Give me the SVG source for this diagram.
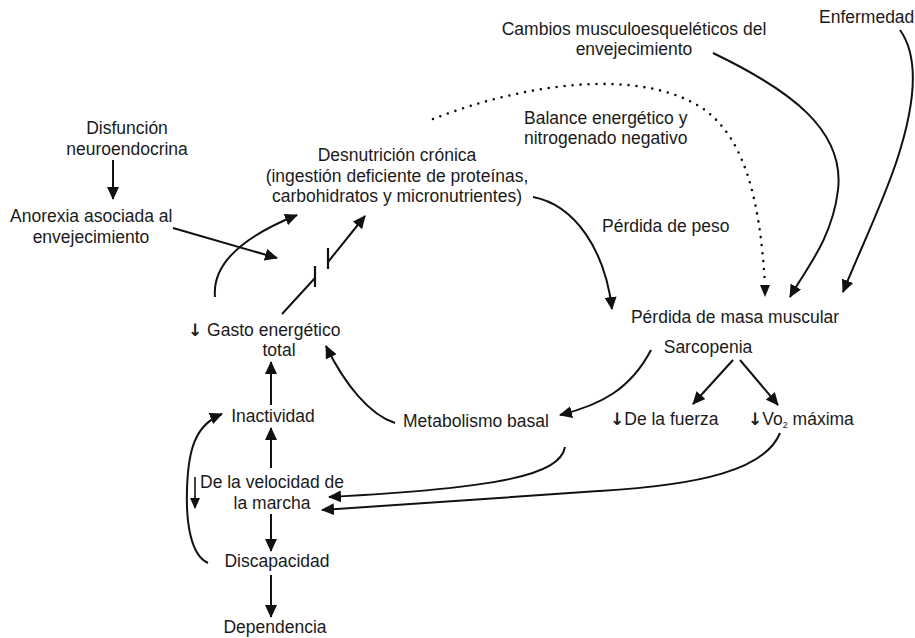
<svg xmlns="http://www.w3.org/2000/svg" width="915" height="638" viewBox="0 0 915 638">
<defs>
<marker id="ah" markerUnits="userSpaceOnUse" markerWidth="14" markerHeight="12" refX="12" refY="6" orient="auto">
<path d="M0,0 L13,6 L0,12 Z" fill="#111"/>
</marker>
<marker id="ahs" markerUnits="userSpaceOnUse" markerWidth="12" markerHeight="10" refX="10" refY="5" orient="auto">
<path d="M0,0 L11,5 L0,10 Z" fill="#111"/>
</marker>
<style>
text{font-family:"Liberation Sans",Arial,sans-serif;font-size:17.5px;fill:#1a1a1a}
.c{text-anchor:middle}
.dn{font-family:"DejaVu Sans",sans-serif;font-size:17px;font-weight:bold}
.ln{fill:none;stroke:#111;stroke-width:2}
.arr{marker-end:url(#ah)}
.dot{fill:none;stroke:#111;stroke-width:2.6;stroke-linecap:round;stroke-dasharray:0 8}
.bar{stroke:#111;stroke-width:2.2}
</style>
</defs>
<rect width="915" height="638" fill="#fff"/>

<g id="connectors">
<path class="ln arr" d="M113,160 L113,199"/>
<path class="ln arr" d="M173,228 L277,258"/>
<path class="ln arr" d="M215,297 C212,265 240,238 297,215"/>
<path class="ln" d="M282,314 L315,278"/>
<line class="bar" x1="315" y1="266" x2="315" y2="287"/>
<line class="bar" x1="328" y1="248" x2="328" y2="269"/>
<path class="ln arr" d="M328,262 L365,216"/>
<path class="ln arr" d="M533,197 C575,205 605,250 612,309"/>
<path class="dot" d="M433,119 C520,85 640,65 705,110 C745,140 760,200 765,285"/>
<path d="M760,285 L770,285 L765,297 Z" fill="#111"/>
<path class="ln arr" d="M713,53 C790,90 845,130 838,190 C832,240 805,270 790,297"/>
<path class="ln arr" d="M900,30 C920,58 915,105 897,160 C882,205 860,250 843,292"/>
<path class="ln arr" d="M733,360 L693,404"/>
<path class="ln arr" d="M740,360 L778,405"/>
<path class="ln arr" d="M651,350 C630,390 600,405 560,415"/>
<path class="ln arr" d="M395,423 C370,415 345,385 326,346"/>
<path class="ln arr" d="M565,447 C560,475 500,488 329,497"/>
<path class="ln arr" d="M780,433 C765,470 700,485 600,491 C500,497 400,505 322,510"/>
<path class="ln arr" d="M271,405 L271,362"/>
<path class="ln arr" d="M271,468 L271,428"/>
<path class="ln arr" d="M271,514 L271,551"/>
<path class="ln arr" d="M271,575 L271,617"/>
<path class="ln arr" d="M208,563 C190,555 186,520 187,490 C188,450 195,425 222,414"/>
<path class="ln" d="M195,477 L195,508" style="stroke-width:1.6" marker-end="url(#ahs)"/>
</g>

<g id="n-disfuncion"><text class="c" x="127" y="134">Disfunción</text><text class="c" x="127" y="155">neuroendocrina</text></g>
<g id="n-anorexia"><text x="10" y="222">Anorexia asociada al</text><text class="c" x="91" y="243">envejecimiento</text></g>
<g id="n-desnutricion"><text class="c" x="397" y="161">Desnutrición crónica</text><text class="c" x="397" y="182">(ingestión deficiente de proteínas,</text><text class="c" x="397" y="202">carbohidratos y micronutrientes)</text></g>
<g id="n-cambios"><text class="c" x="634" y="35">Cambios musculoesqueléticos del</text><text class="c" x="634" y="55">envejecimiento</text></g>
<g id="n-enfermedad"><text x="819" y="23">Enfermedad</text></g>
<g id="n-balance"><text x="524" y="124">Balance energético y</text><text x="524" y="144">nitrogenado negativo</text></g>
<g id="n-peso"><text x="602" y="232">Pérdida de peso</text></g>
<g id="n-masa"><text class="c" x="735" y="323">Pérdida de masa muscular</text></g>
<g id="n-sarcopenia"><text class="c" x="708" y="353">Sarcopenia</text></g>
<g id="n-gasto"><text x="188" y="336"><tspan class="dn">↓</tspan> Gasto energético</text><text class="c" x="279" y="356">total</text></g>
<g id="n-metabolismo"><text class="c" x="476" y="427">Metabolismo basal</text></g>
<g id="n-fuerza"><text x="610" y="425"><tspan class="dn">↓</tspan>De la fuerza</text></g>
<g id="n-vo2"><text x="748" y="425"><tspan class="dn">↓</tspan>Vo<tspan font-size="9" dy="3">2</tspan><tspan dy="-3"> máxima</tspan></text></g>
<g id="n-inactividad"><text class="c" x="273" y="422">Inactividad</text></g>
<g id="n-velocidad"><text class="c" x="272" y="488">De la velocidad de</text><text class="c" x="272" y="509">la marcha</text></g>
<g id="n-discapacidad"><text class="c" x="277" y="567">Discapacidad</text></g>
<g id="n-dependencia"><text class="c" x="275" y="633">Dependencia</text></g>
</svg>
